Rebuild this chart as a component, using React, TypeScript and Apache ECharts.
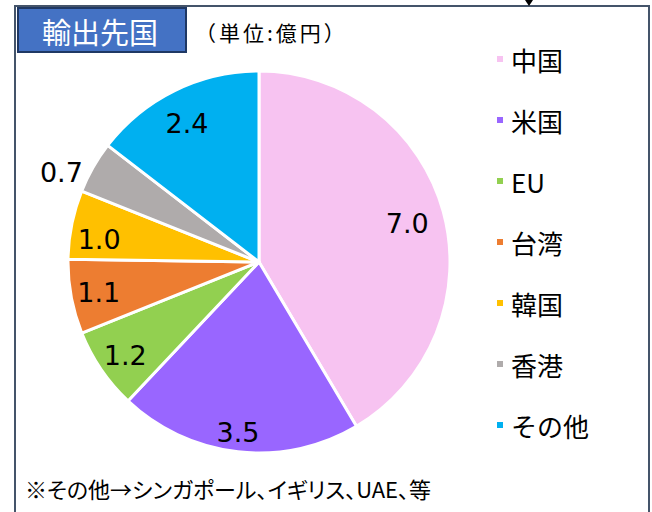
import React, { useEffect, useRef } from "react";
import * as echarts from "echarts";

const categories = ["中国", "米国", "EU", "台湾", "韓国", "香港", "その他"];
const values = [6.98, 3.46, 1.16, 1.06, 0.98, 0.74, 2.449];
const colors = ["#F7C3F1", "#9966FF", "#92D050", "#ED7D31", "#FFC000", "#AFABAB", "#00B0F0"];
const titleText = "輸出先国";
const unitText = "（単位:億円）";
const noteText = "※その他→シンガポール、イギリス、UAE、等";

const FONT = "'Noto Sans CJK JP', 'Noto Sans', sans-serif";
const NUM_FONT = "'DejaVu Sans', sans-serif";

// label nudges (styling only), keyed by category
const labelNudge: Record<string, number[]> = {
  "中国": [-9, 5],
  "米国": [-3, 8],
  "EU": [1, 2],
  "台湾": [0, 1],
  "韓国": [0, 9],
  "香港": [-56, -9],
  "その他": [0, 8],
};

export default function App() {
  const ref = useRef<HTMLDivElement>(null);
  useEffect(() => {
    document.body.style.margin = "0";
    const styleEl = document.createElement("style");
    styleEl.textContent =
      "#root svg text[style*='22px'] { font-feature-settings: 'palt' 1 !important; }" +
      "#root svg text[style*='21px'] { letter-spacing: 3px !important; }";
    document.head.appendChild(styleEl);
    if (!ref.current) return;
    const chart = echarts.init(ref.current, undefined, { renderer: "svg" });
    const pieData = categories.map((name, i) => ({
      name,
      value: values[i],
      itemStyle: { color: colors[i] },
    }));
    const labelData = categories.map((name, i) => ({
      name,
      value: values[i],
      label: { offset: labelNudge[name] || [0, 0] },
    }));
    chart.setOption({
      animation: false,
      backgroundColor: "#ffffff",
      legend: {
        orient: "vertical",
        left: 490,
        top: 41,
        icon: "rect",
        itemWidth: 8,
        itemHeight: 8,
        itemGap: 35,
        data: categories,
        textStyle: { fontSize: 26, color: "#000", fontFamily: FONT, padding: [0, 0, 0, 2] },
        selectedMode: false,
      },
      series: [
        {
          type: "pie",
          center: [259, 262],
          radius: 191,
          startAngle: 90,
          clockwise: true,
          silent: true,
          itemStyle: { borderColor: "#ffffff", borderWidth: 3 },
          label: { show: false },
          labelLine: { show: false },
          data: pieData,
        },
        {
          type: "pie",
          center: [259, 262],
          radius: [129, 191],
          startAngle: 90,
          clockwise: true,
          silent: true,
          legendHoverLink: false,
          itemStyle: { color: "transparent", borderWidth: 0 },
          label: {
            show: true,
            position: "inside",
            fontSize: 27,
            color: "#000",
            fontFamily: NUM_FONT,
            formatter: (p: any) => Number(p.value).toFixed(1),
          },
          labelLine: { show: false },
          data: labelData,
        },
      ],
      graphic: [
        {
          type: "rect",
          shape: { x: 15, y: 6, width: 634, height: 520 },
          style: { fill: "none", stroke: "#44546A", lineWidth: 2 },
          silent: true,
        },
        {
          type: "polygon",
          shape: { points: [[525, 0], [533, 0], [529, 6]] },
          style: { fill: "#000" },
        },
        {
          type: "rect",
          shape: { x: 18, y: 8, width: 168, height: 44 },
          style: { fill: "#4472C4", stroke: "#1F3864", lineWidth: 2 },
        },
        {
          type: "text",
          x: 100,
          y: 31,
          style: {
            text: titleText,
            fill: "#ffffff",
            fontSize: 29,
            fontFamily: FONT,
            align: "center",
            verticalAlign: "middle",
          },
        },
        {
          type: "text",
          x: 195,
          y: 32,
          style: {
            text: unitText,
            fill: "#000",
            fontSize: 21,
            fontFamily: FONT,
            align: "left",
            verticalAlign: "middle",
          },
        },
        {
          type: "text",
          x: 25,
          y: 488,
          style: {
            text: noteText,
            fill: "#000",
            fontSize: 22,
            fontFamily: FONT,
            align: "left",
            verticalAlign: "middle",
          },
        },
      ],
    });
    return () => {
      chart.dispose();
      styleEl.remove();
    };
  }, []);
  return <div ref={ref} style={{ width: 652, height: 512 }} />;
}
